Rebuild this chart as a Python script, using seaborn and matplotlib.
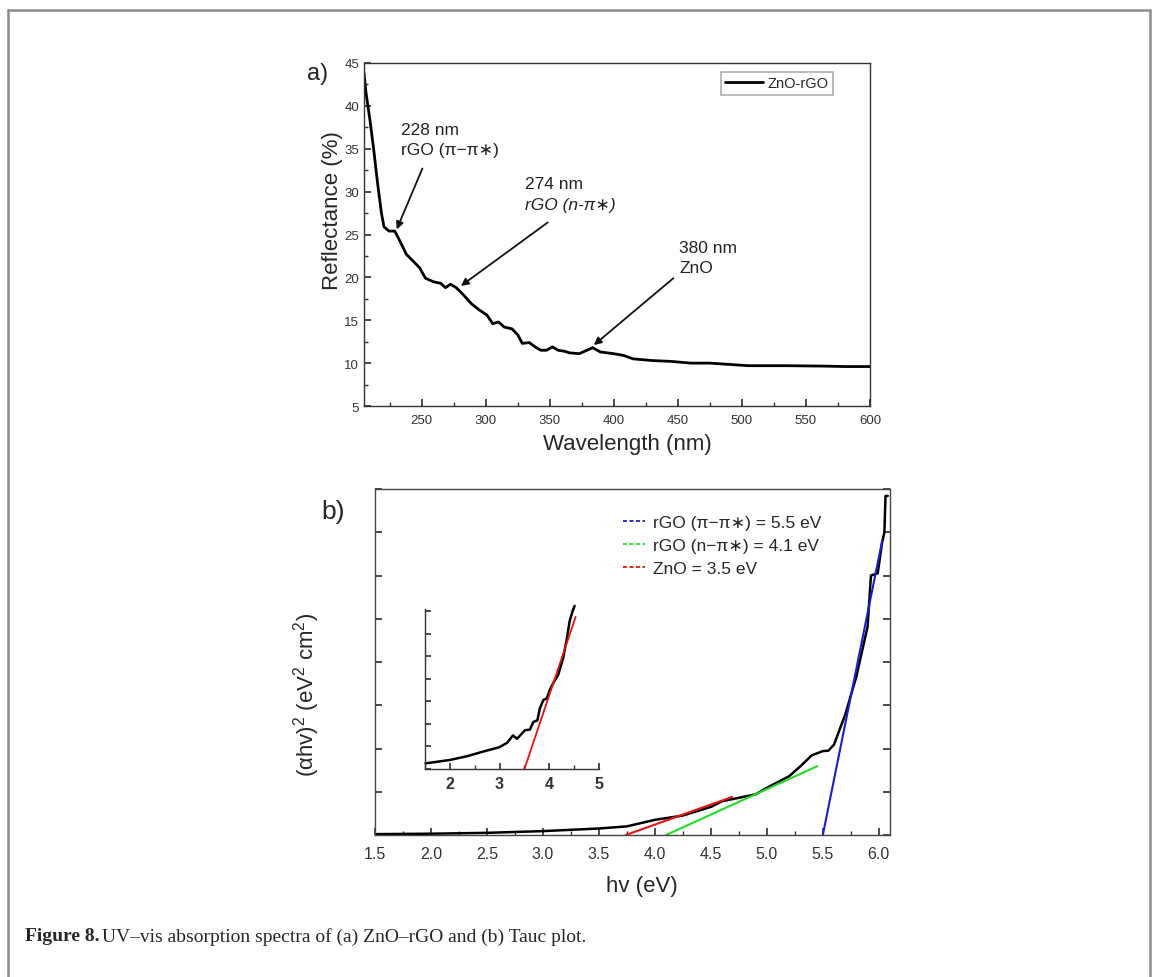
import matplotlib
matplotlib.use('Agg')
import matplotlib.pyplot as plt
from matplotlib.lines import Line2D
from matplotlib.ticker import MultipleLocator
import seaborn as sns

# ---- panel a: reflectance of ZnO-rGO ----
wavelength = [205, 206.5, 209.5, 212.5, 215.5, 218.5, 220.6, 224.5, 229, 233.5,
              238, 244, 248.5, 253, 259, 265, 268.6, 272.5, 277, 283,
              289, 295, 301, 305.5, 310, 314.5, 320.5, 325, 328.6, 334,
              338.5, 343, 347.5, 352, 356.5, 361, 365.5, 373, 377.5, 383.5,
              389.5, 400, 407.5, 415, 430, 445, 460, 475, 490, 505,
              535, 565, 580, 600]
reflectance = [43.8, 41.6, 38.5, 35, 31.1, 27.6, 25.9, 25.4, 25.4, 24.1,
               22.7, 21.8, 21.1, 19.9, 19.5, 19.3, 18.8, 19.2, 18.8, 17.9,
               16.9, 16.2, 15.6, 14.6, 14.8, 14.2, 14.0, 13.3, 12.3, 12.4,
               11.9, 11.5, 11.5, 11.9, 11.5, 11.4, 11.2, 11.1, 11.4, 11.8,
               11.3, 11.1, 10.9, 10.5, 10.3, 10.2, 10.0, 10.0, 9.85, 9.7,
               9.7, 9.65, 9.6, 9.6]

peak_labels = [("228 nm", "rGO (π−π∗)"), ("274 nm", "rGO (n-π∗)"), ("380 nm", "ZnO")]
peak_text_xy = [(234, 37.3), (331, 30.9), (451, 23.5)]
arrow_from = [(250.6, 32.7), (348.4, 26.4), (446.5, 19.9)]
arrow_to = [(230.5, 25.6), (280.6, 19.0), (384.4, 12.1)]

# ---- panel b: Tauc plot ----
energy = [1.5, 2.0, 2.5, 3.0, 3.5, 3.75, 4.0, 4.25, 4.5, 4.6,
          4.75, 4.9, 5.0, 5.2, 5.3, 5.4, 5.5, 5.55, 5.6, 5.65,
          5.7, 5.8, 5.9, 5.93, 5.99, 6.03, 6.05, 6.06, 6.08]
tauc = [0.02, 0.03, 0.05, 0.09, 0.15, 0.2, 0.35, 0.45, 0.65, 0.78,
        0.86, 0.94, 1.09, 1.36, 1.59, 1.84, 1.94, 1.95, 2.09, 2.44,
        2.78, 3.67, 4.82, 6.0, 6.05, 6.77, 7.0, 7.84, 7.84]

fit_labels = ["rGO (π−π∗) = 5.5 eV", "rGO (n−π∗) = 4.1 eV", "ZnO = 3.5 eV"]
fit_colors = ["#1a1ae0", "#22dd22", "#ee1111"]
fit_x = [[5.5, 6.03], [4.1, 5.45], [3.74, 4.69]]
fit_y = [[0, 6.8], [0, 1.59], [0, 0.88]]

# inset of panel b
inset_e = [1.51, 2.0, 2.35, 2.68, 3.0, 3.15, 3.27, 3.35, 3.51, 3.61,
           3.68, 3.76, 3.81, 3.88, 3.95, 4.01, 4.08, 4.18, 4.28, 4.35,
           4.41, 4.47, 4.51]
inset_y = [0.25, 0.4, 0.57, 0.78, 0.97, 1.16, 1.49, 1.34, 1.72, 1.75,
           2.09, 2.16, 2.69, 3.06, 3.13, 3.51, 3.81, 4.18, 4.93, 5.75,
           6.57, 7.01, 7.24]
inset_fit_x = [3.5, 4.53]
inset_fit_y = [0, 6.75]

sns.set_theme(style="ticks")
plt.rcParams['font.family'] = ['Liberation Sans', 'DejaVu Sans']
plt.rcParams['mathtext.default'] = 'regular'
plt.rcParams['axes.linewidth'] = 1.0

W, H = 1153, 978
fig = plt.figure(figsize=(W / 100, H / 100), dpi=100)


def px_axes(left, top, right, bottom):
    return fig.add_axes([left / W, 1 - bottom / H, (right - left) / W, (bottom - top) / H])


# ---------- panel a ----------
ax_a = px_axes(364, 64, 870, 407)
sns.lineplot(x=wavelength, y=reflectance, ax=ax_a, color='black', lw=2.0,
             sort=False, estimator=None, label='ZnO-rGO')
ax_a.set_xlim(205, 600)
ax_a.set_ylim(5, 45)
ax_a.xaxis.set_major_locator(MultipleLocator(50))
ax_a.xaxis.set_minor_locator(MultipleLocator(25))
ax_a.yaxis.set_major_locator(MultipleLocator(5))
ax_a.yaxis.set_minor_locator(MultipleLocator(2.5))
ax_a.set_xticks([250, 300, 350, 400, 450, 500, 550, 600])
ax_a.tick_params(which='both', direction='in', colors='#333333', labelsize=9.5)
ax_a.tick_params(which='major', length=5)
ax_a.tick_params(which='minor', length=3)
ax_a.tick_params(axis='x', pad=6)
for s in ax_a.spines.values():
    s.set_color('#333333')
ax_a.set_xlabel('Wavelength (nm)', fontsize=16)
ax_a.set_ylabel('Reflectance (%)', fontsize=16)
ax_a.xaxis.set_label_coords((627 - 364) / 506, -(434 - 407) / 343)
ax_a.yaxis.set_label_coords(-(364 - 343) / 506, (407 - 211) / 343)

for (l1, l2), (tx, ty), a0, a1 in zip(peak_labels, peak_text_xy, arrow_from, arrow_to):
    style = 'italic' if 'n-' in l2 else 'normal'
    ax_a.text(tx, ty, l1, fontsize=12.5, va='center', ha='left', color='#222222')
    ax_a.text(tx, ty - 2.4, l2, fontsize=12.5, va='center', ha='left',
              color='#222222', style=style)
    ax_a.annotate('', xy=a1, xytext=a0,
                  arrowprops=dict(arrowstyle='-|>', color='#111111', lw=1.3,
                                  mutation_scale=11, shrinkA=0, shrinkB=0))

leg_a = ax_a.legend(loc='upper right', bbox_to_anchor=(0.927, 0.974), borderaxespad=0,
                    fontsize=10.5, frameon=True, fancybox=False, handlelength=2.6,
                    borderpad=0.3, handletextpad=0.3)
leg_a.get_frame().set_edgecolor('#999999')
leg_a.get_frame().set_linewidth(1.2)
fig.text(318 / W, 1 - 74 / H, 'a)', fontsize=17, ha='center', va='center')

# ---------- panel b ----------
ax_b = px_axes(375, 490, 890, 836)
sns.lineplot(x=energy, y=tauc, ax=ax_b, color='black', lw=1.8, sort=False, estimator=None)
handles = []
for xs, ys, c, lab in zip(fit_x, fit_y, fit_colors, fit_labels):
    sns.lineplot(x=xs, y=ys, ax=ax_b, color=c, lw=1.5, sort=False, estimator=None)
    handles.append(Line2D([], [], color=c, lw=1.3, ls=(0, (2.2, 1.4)), label=lab))
ax_b.set_xlim(1.5, 6.1)
ax_b.set_ylim(0, 8)
ax_b.xaxis.set_major_locator(MultipleLocator(0.5))
ax_b.xaxis.set_minor_locator(MultipleLocator(0.25))
ax_b.yaxis.set_major_locator(MultipleLocator(1))
ax_b.tick_params(which='both', direction='in', colors='#333333', labelsize=11.5,
                 right=True)
ax_b.tick_params(axis='y', which='both', labelleft=False)
ax_b.tick_params(axis='x', pad=8)
ax_b.tick_params(which='major', length=5)
ax_b.tick_params(which='minor', length=3)
for s in ax_b.spines.values():
    s.set_color('#444444')
ax_b.set_xlabel('hv (eV)', fontsize=16)
ax_b.set_ylabel('(αhv)$^2$ (eV$^2$ cm$^2$)', fontsize=16)
ax_b.xaxis.set_label_coords((642 - 375) / 515, -(876 - 836) / 346)
ax_b.yaxis.set_label_coords(-(375 - 322) / 515, (836 - 695) / 346)
ax_b.legend(handles=handles, loc='upper left', bbox_to_anchor=(0.481, 0.926),
            borderaxespad=0, borderpad=0, frameon=False, fontsize=12.5,
            handlelength=1.3, handletextpad=0.45, labelspacing=0.45)
fig.text(333 / W, 1 - 512 / H, 'b)', fontsize=19, ha='center', va='center')

# ---------- inset ----------
ax_i = px_axes(425, 610, 599, 770)
sns.lineplot(x=inset_e, y=inset_y, ax=ax_i, color='black', lw=1.8, sort=False, estimator=None)
sns.lineplot(x=inset_fit_x, y=inset_fit_y, ax=ax_i, color='#ee1111', lw=1.3,
             sort=False, estimator=None)
ax_i.set_xlim(1.5, 5.0)
ax_i.set_ylim(0, 7.1)
ax_i.patch.set_alpha(0)
ax_i.spines['top'].set_visible(False)
ax_i.spines['right'].set_visible(False)
for s in ('left', 'bottom'):
    ax_i.spines[s].set_color('#333333')
ax_i.xaxis.set_major_locator(MultipleLocator(1))
ax_i.xaxis.set_minor_locator(MultipleLocator(0.5))
ax_i.yaxis.set_major_locator(MultipleLocator(1))
ax_i.tick_params(which='both', direction='in', colors='#333333', labelsize=11.5)
ax_i.tick_params(axis='y', labelleft=False)
ax_i.tick_params(axis='x', pad=5)
ax_i.tick_params(which='major', length=4)
ax_i.tick_params(which='minor', length=3)
for lab in ax_i.get_xticklabels():
    lab.set_fontweight('bold')
for c in ax_i.lines:
    c.set_clip_on(False)

# ---------- figure frame and caption ----------
frame_kw = dict(color='#8c8c8c', lw=1.8, transform=fig.transFigure)
fig.add_artist(Line2D([8 / W, 8 / W], [0, 1 - 11 / H], **frame_kw))
fig.add_artist(Line2D([8 / W, 1150 / W], [1 - 11 / H, 1 - 11 / H], **frame_kw))
fig.add_artist(Line2D([1150 / W, 1150 / W], [0, 1 - 11 / H], **frame_kw))

cap_kw = dict(fontsize=14, family=['Liberation Serif', 'DejaVu Serif'], va='center')
t1 = fig.text(25 / W, 1 - 937 / H, 'Figure 8.', weight='bold', **cap_kw)
fig.canvas.draw()
bb = t1.get_window_extent()
fig.text((bb.x1 + 3) / W, 1 - 937 / H,
         'UV–vis absorption spectra of (a) ZnO–rGO and (b) Tauc plot.', **cap_kw)

fig.savefig('out.png', dpi=100)
